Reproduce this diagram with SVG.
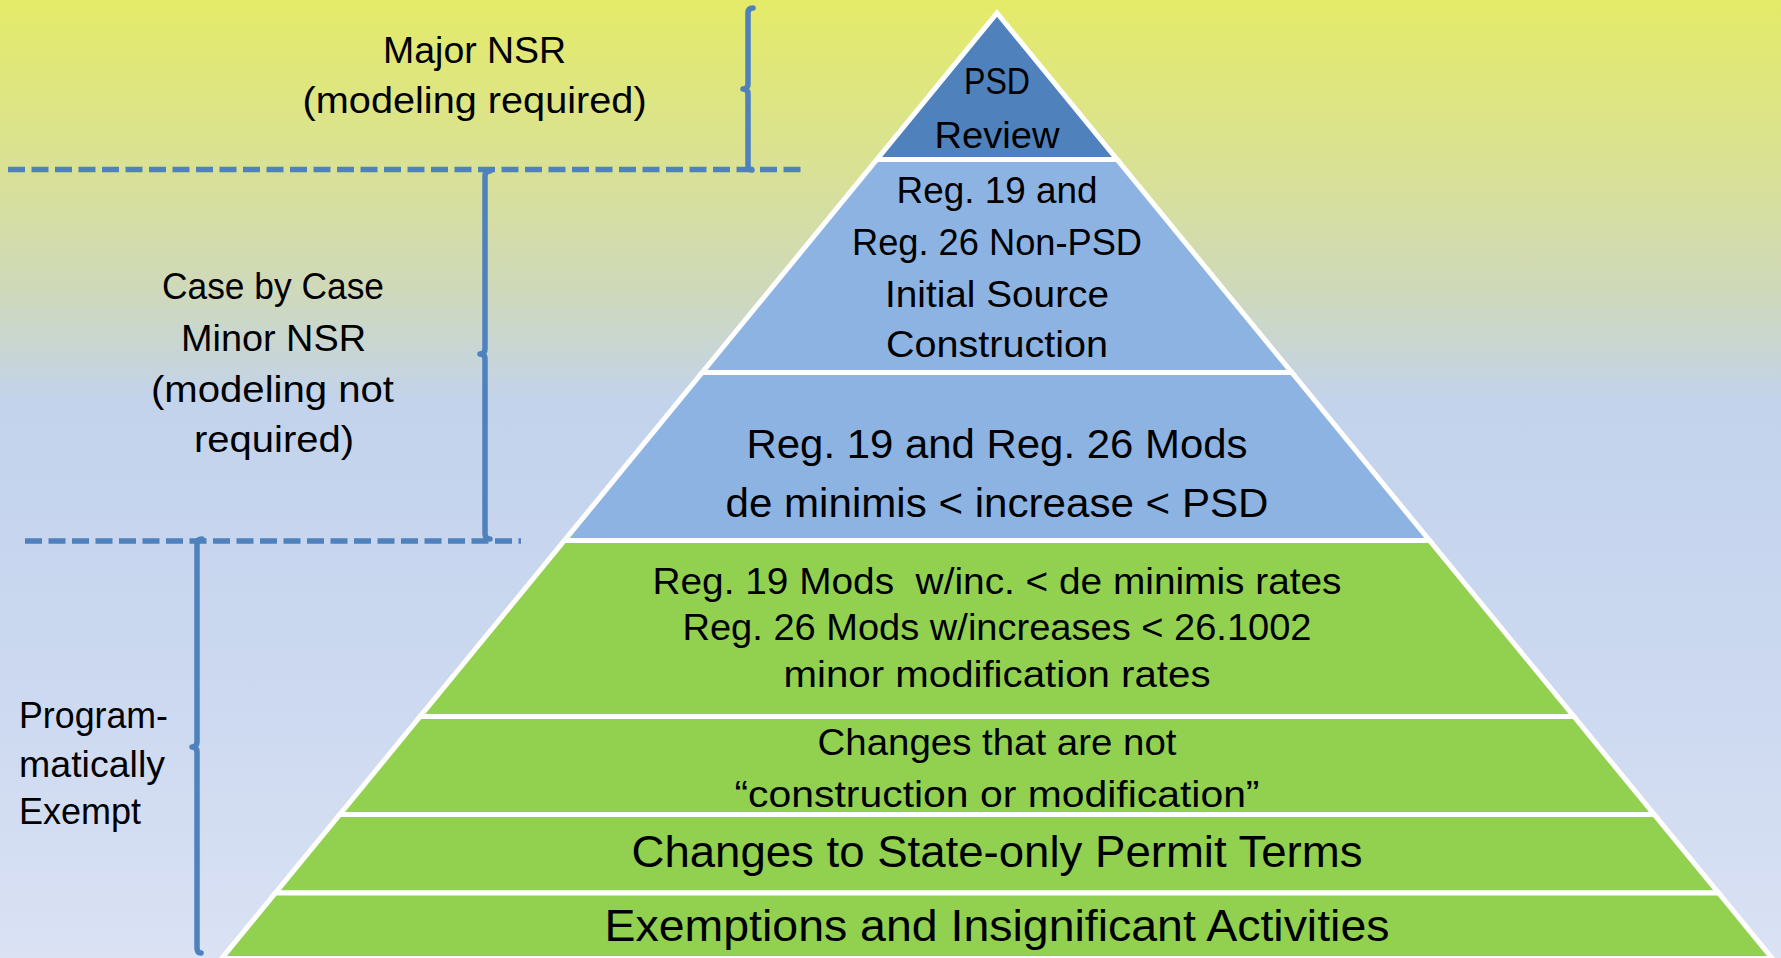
<svg xmlns="http://www.w3.org/2000/svg" width="1781" height="958" viewBox="0 0 1781 958">
  <defs>
    <linearGradient id="bg" x1="0" y1="0" x2="0" y2="1">
      <stop offset="0" stop-color="#E4EB68"/>
      <stop offset="0.18" stop-color="#D9E196"/>
      <stop offset="0.30" stop-color="#CFD9B9"/>
      <stop offset="0.42" stop-color="#C3D3EC"/>
      <stop offset="0.70" stop-color="#CBD8F0"/>
      <stop offset="1" stop-color="#DAE2F4"/>
    </linearGradient>
    <style>
      .band { stroke: #FFFFFF; stroke-width: 5; stroke-linejoin: miter; }
      .dark { fill: #4F81BD; }
      .light { fill: #8DB3E2; }
      .green { fill: #92D050; }
      .dash { fill: none; stroke: #4F81BD; stroke-width: 5.5; stroke-dasharray: 17 6.5; }
      .brace { fill: none; stroke: #4F81BD; stroke-width: 5.5; stroke-linecap: round; stroke-linejoin: round; }
      text { font-family: "Liberation Sans", Arial, sans-serif; fill: #000000; }
      .c { text-anchor: middle; }
      .lbl { font-size: 36px; }
    </style>
  </defs>

  <rect x="0" y="0" width="1781" height="958" fill="url(#bg)"/>

  <g id="connectors">
    <line class="dash" x1="8" y1="169.5" x2="806" y2="169.5"/>
    <line class="dash" x1="25" y1="541" x2="521" y2="541"/>
    <path class="brace" d="M753 8 Q748 8 748 13 L748 84 Q748 89 743 89 Q748 89 748 94 L748 165 Q748 170 752 170"/>
    <path class="brace" d="M490 171 Q485 171 485 176 L485 349 Q485 354 480 354 Q485 354 485 359 L485 534 Q485 539 490 539"/>
    <path class="brace" d="M202 539 Q197 539 197 544 L197 742 Q197 747 192 747 Q197 747 197 752 L197 948 Q197 953 201 953"/>
  </g>

  <g id="label-major">
    <text class="lbl c" x="474.6" y="62.5" textLength="183" lengthAdjust="spacingAndGlyphs">Major NSR</text>
    <text class="lbl c" x="474.6" y="113" textLength="344" lengthAdjust="spacingAndGlyphs">(modeling required)</text>
  </g>
  <g id="label-minor">
    <text class="lbl c" x="273" y="299" textLength="222" lengthAdjust="spacingAndGlyphs">Case by Case</text>
    <text class="lbl c" x="273.5" y="351" textLength="185" lengthAdjust="spacingAndGlyphs">Minor NSR</text>
    <text class="lbl c" x="272.5" y="402" textLength="243" lengthAdjust="spacingAndGlyphs">(modeling not</text>
    <text class="lbl c" x="274" y="452" textLength="160" lengthAdjust="spacingAndGlyphs">required)</text>
  </g>
  <g id="label-exempt">
    <text class="lbl" x="19" y="728" textLength="149" lengthAdjust="spacingAndGlyphs">Program-</text>
    <text class="lbl" x="19" y="777" textLength="146" lengthAdjust="spacingAndGlyphs">matically</text>
    <text class="lbl" x="19" y="824" textLength="122" lengthAdjust="spacingAndGlyphs">Exempt</text>
  </g>

  <g id="band-psd">
    <polygon class="band dark" points="997,13 1117.1,159.5 876.9,159.5"/>
    <text class="c" x="997" y="94" font-size="37" textLength="66" lengthAdjust="spacingAndGlyphs">PSD</text>
    <text class="c" x="997" y="148" font-size="37" textLength="125" lengthAdjust="spacingAndGlyphs">Review</text>
  </g>
  <g id="band-initial">
    <polygon class="band light" points="876.9,159.5 1117.1,159.5 1291.8,372.5 702.2,372.5"/>
    <text class="c" x="997" y="203" font-size="36" textLength="201" lengthAdjust="spacingAndGlyphs">Reg. 19 and</text>
    <text class="c" x="997" y="255" font-size="36" textLength="290" lengthAdjust="spacingAndGlyphs">Reg. 26 Non-PSD</text>
    <text class="c" x="997" y="307" font-size="36" textLength="224" lengthAdjust="spacingAndGlyphs">Initial Source</text>
    <text class="c" x="997" y="357" font-size="36" textLength="222" lengthAdjust="spacingAndGlyphs">Construction</text>
  </g>
  <g id="band-mods">
    <polygon class="band light" points="702.2,372.5 1291.8,372.5 1429.55,540.5 564.45,540.5"/>
    <text class="c" x="997" y="458" font-size="40" textLength="501" lengthAdjust="spacingAndGlyphs">Reg. 19 and Reg. 26 Mods</text>
    <text class="c" x="997" y="517" font-size="40" textLength="543" lengthAdjust="spacingAndGlyphs">de minimis &lt; increase &lt; PSD</text>
  </g>
  <g id="band-minor-mods">
    <polygon class="band green" points="564.45,540.5 1429.55,540.5 1573.9,716.5 420.1,716.5"/>
    <text class="c" x="997" y="594" font-size="36" textLength="689" lengthAdjust="spacingAndGlyphs" xml:space="preserve">Reg. 19 Mods  w/inc. &lt; de minimis rates</text>
    <text class="c" x="997" y="640" font-size="36" textLength="629" lengthAdjust="spacingAndGlyphs">Reg. 26 Mods w/increases &lt; 26.1002</text>
    <text class="c" x="997" y="687" font-size="36" textLength="427" lengthAdjust="spacingAndGlyphs">minor modification rates</text>
  </g>
  <g id="band-not-construction">
    <polygon class="band green" points="420.1,716.5 1573.9,716.5 1654.2,814.5 339.8,814.5"/>
    <text class="c" x="997" y="754.5" font-size="36.5" textLength="359" lengthAdjust="spacingAndGlyphs">Changes that are not</text>
    <text class="c" x="997" y="807" font-size="36.5" textLength="525" lengthAdjust="spacingAndGlyphs">“construction or modification”</text>
  </g>
  <g id="band-state-only">
    <polygon class="band green" points="339.8,814.5 1654.2,814.5 1718.6,893 275.4,893"/>
    <text class="c" x="997" y="867" font-size="43.5" textLength="731" lengthAdjust="spacingAndGlyphs">Changes to State-only Permit Terms</text>
  </g>
  <g id="band-exemptions">
    <polygon class="band green" points="275.4,893 1718.6,893 1772.3,958.5 221.7,958.5"/>
    <text class="c" x="997" y="941" font-size="44" textLength="785" lengthAdjust="spacingAndGlyphs">Exemptions and Insignificant Activities</text>
  </g>
</svg>
